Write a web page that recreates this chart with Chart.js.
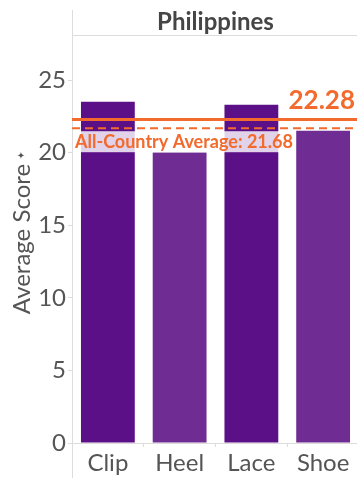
<!DOCTYPE html>
<html>
<head>
<meta charset="utf-8">
<script src="https://cdn.jsdelivr.net/npm/chart.js@4"></script>
<style>
  html,body{margin:0;padding:0;overflow:hidden;background:#fff;}
  #wrap{width:362px;height:478px;}
</style>
</head>
<body>
<div id="wrap"><canvas id="chart"></canvas></div>
<script>
const categories=['Clip','Heel','Lace','Shoe'];
const scores=[23.5,20.0,23.3,21.5];
const barColors=['#5c1087','#6f2c92','#5c1087','#6f2c92'];
const yTicks=[0,5,10,15,20,25];
const countryAvg=22.28;
const allCountryAvg=21.68;
const panelTitle='Philippines';

const FONT='Lato, "Open Sans", sans-serif';
const ORANGE='#f26a2c';

const overlay={
  id:'overlay',
  afterDatasetsDraw(chart){
    const {ctx,chartArea:a,scales:{y}}=chart;
    ctx.save();
    // panel frame: left rule and header rule
    ctx.strokeStyle='#dcdcdc';
    ctx.lineWidth=1;
    ctx.beginPath();
    ctx.moveTo(a.left+0.5,10);ctx.lineTo(a.left+0.5,478);
    ctx.moveTo(a.left,a.top+0.5);ctx.lineTo(chart.width,a.top+0.5);
    ctx.stroke();

    ctx.fillStyle='#454545';
    ctx.font='bold 24px '+FONT;
    ctx.textAlign='center';ctx.textBaseline='middle';
    ctx.fillText(panelTitle,(a.left+a.right)/2,22);

    // country average
    const ys=y.getPixelForValue(countryAvg);
    ctx.strokeStyle=ORANGE;ctx.lineWidth=3;
    ctx.beginPath();ctx.moveTo(a.left,ys);ctx.lineTo(chart.width,ys);ctx.stroke();

    // all-country average
    const yd=y.getPixelForValue(allCountryAvg);
    ctx.lineWidth=2;ctx.setLineDash([8,5]);
    ctx.beginPath();ctx.moveTo(a.left,yd);ctx.lineTo(chart.width,yd);ctx.stroke();
    ctx.setLineDash([]);

    const label='All-Country Average: '+allCountryAvg.toFixed(2);
    ctx.font='bold 18px '+FONT;
    const w=ctx.measureText(label).width;
    ctx.fillStyle='rgba(255,255,255,0.82)';
    ctx.fillRect(a.left+1,yd+3,w+4,21);
    ctx.fillStyle=ORANGE;
    ctx.textAlign='left';ctx.textBaseline='middle';
    ctx.fillText(label,a.left+3,yd+14);

    ctx.font='bold 26px '+FONT;
    ctx.textAlign='right';ctx.textBaseline='alphabetic';
    ctx.fillText(countryAvg.toFixed(2),355,ys-11);

    // small marker beside the axis title
    ctx.fillStyle='#555';
    ctx.font='10px DejaVu Sans';
    ctx.textAlign='center';ctx.textBaseline='middle';
    ctx.fillText('\u2726',21,156);
    ctx.restore();
  }
};

new Chart(document.getElementById('chart'),{
  type:'bar',
  data:{labels:categories,datasets:[{
    data:scores,
    backgroundColor:barColors,
    borderWidth:0,
    barPercentage:0.75,
    categoryPercentage:1
  }]},
  options:{
    responsive:true,
    maintainAspectRatio:false,
    animation:false,
    layout:{padding:{top:35,right:3,left:0,bottom:0}},
    plugins:{legend:{display:false},tooltip:{enabled:false}},
    scales:{
      x:{
        grid:{drawOnChartArea:false,tickLength:4,color:'#dcdcdc',offset:true},
        border:{color:'#dcdcdc'},
        ticks:{color:'#555',font:{family:FONT,size:24},padding:2},
        afterFit(s){s.height=35;}
      },
      y:{
        min:0,
        max:28.1,
        grid:{drawOnChartArea:false,tickLength:4,color:'#dcdcdc'},
        border:{color:'#dcdcdc'},
        ticks:{color:'#555',font:{family:FONT,size:24},padding:2,stepSize:5},
        afterBuildTicks(s){s.ticks=yTicks.map(v=>({value:v}));},
        title:{display:true,text:'Average Score',color:'#555',font:{family:FONT,size:24},padding:{top:8,bottom:0}},
        afterFit(s){s.width=72;}
      }
    }
  },
  plugins:[overlay]
});
</script>
</body>
</html>
